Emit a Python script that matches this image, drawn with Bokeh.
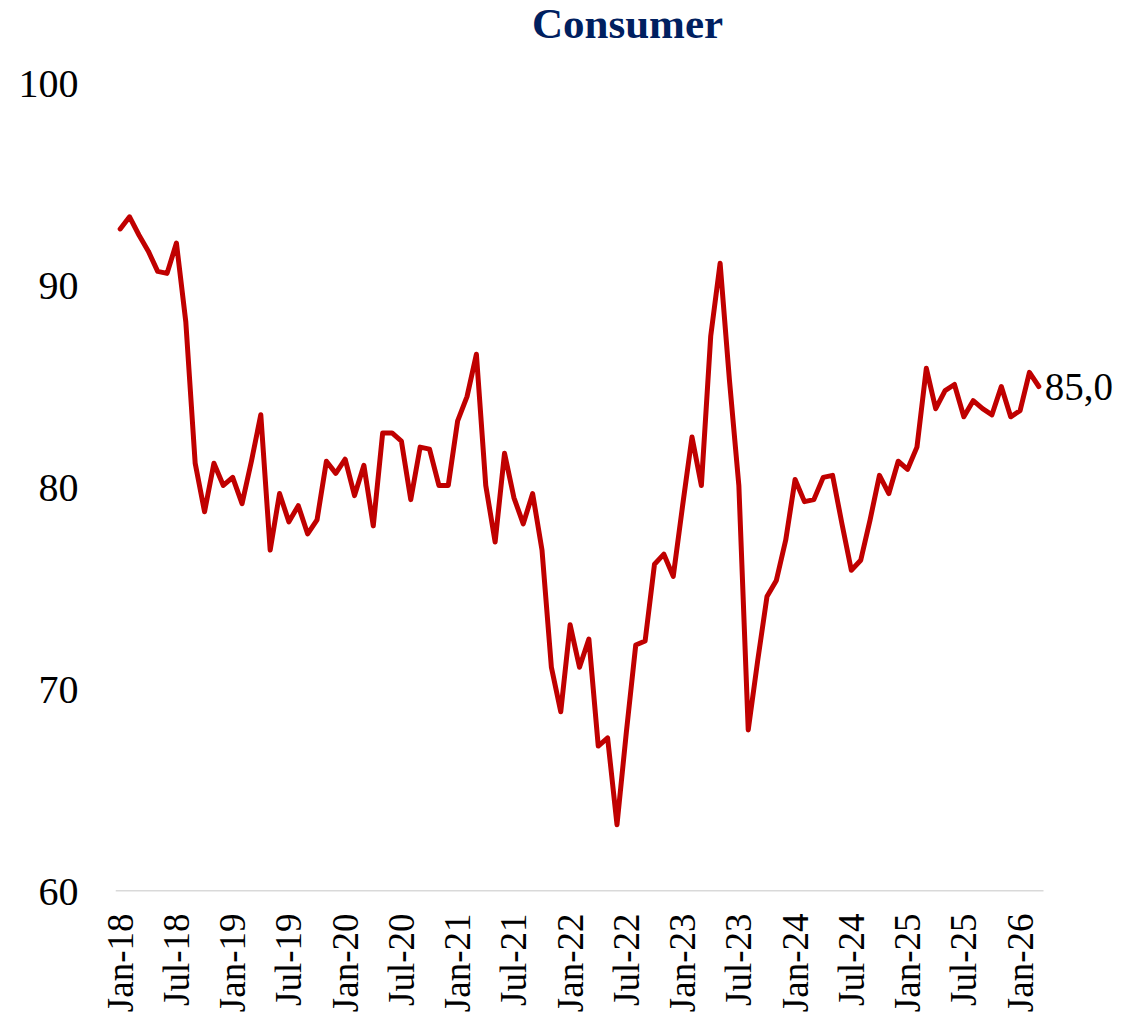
import math
from bokeh.plotting import figure
from bokeh.models import FixedTicker, Label, Range1d
from bokeh.embed import file_html
from bokeh.resources import INLINE

# Monthly consumer index, Jan-2018 .. Mar-2026
values_2018 = [92.8, 93.4, 92.5, 91.7, 90.7, 90.6, 92.1, 88.2, 81.2, 78.8, 81.2, 80.1]
values_2019 = [80.5, 79.2, 81.3, 83.6, 76.9, 79.7, 78.3, 79.1, 77.7, 78.4, 81.3, 80.7]
values_2020 = [81.4, 79.6, 81.1, 78.1, 82.7, 82.7, 82.3, 79.4, 82.0, 81.9, 80.1, 80.1]
values_2021 = [83.3, 84.5, 86.6, 80.1, 77.3, 81.7, 79.5, 78.2, 79.7, 76.9, 71.1, 68.9]
values_2022 = [73.2, 71.1, 72.5, 67.2, 67.6, 63.3, 67.9, 72.2, 72.4, 76.2, 76.7, 75.6]
values_2023 = [79.1, 82.5, 80.1, 87.5, 91.1, 85.3, 80.1, 68.0, 71.4, 74.6, 75.4, 77.4]
values_2024 = [80.4, 79.3, 79.4, 80.5, 80.6, 78.2, 75.9, 76.4, 78.4, 80.6, 79.7, 81.3]
values_2025 = [80.9, 82.0, 85.9, 83.9, 84.8, 85.1, 83.5, 84.3, 83.9, 83.6, 85.0, 83.5]
values_2026 = [83.8, 85.7, 85.0]

values = (values_2018 + values_2019 + values_2020 + values_2021 + values_2022
          + values_2023 + values_2024 + values_2025 + values_2026)

tick_labels = ["Jan-18", "Jul-18", "Jan-19", "Jul-19", "Jan-20", "Jul-20",
               "Jan-21", "Jul-21", "Jan-22", "Jul-22", "Jan-23", "Jul-23",
               "Jan-24", "Jul-24", "Jan-25", "Jul-25", "Jan-26"]
tick_months = [6 * i for i in range(len(tick_labels))]  # month index of each label

y_ticks = [60, 70, 80, 90, 100]
y_min, y_max = 60, 100
title_text = "Consumer"

FONT = "Liberation Serif"

xs = list(range(len(values)))
n = len(values)

# ---- layout geometry (pixels) ----
W, H = 1137, 1020
BL, BR, BB = 115, 6, 129
plot_top_px = 83          # where y_max sits, measured from top of figure
plot_bottom_px = H - BB   # where y_min sits
frame_w = W - BL - BR
px_per_month = 928.0 / n
px_per_unit = (plot_bottom_px - plot_top_px) / (y_max - y_min)
x_end = -0.5 + frame_w / px_per_month
y_top = y_max + plot_top_px / px_per_unit   # frame reaches the top edge

p = figure(width=W, height=H, output_backend="svg", toolbar_location=None,
           title=None,
           x_range=Range1d(-0.5, x_end), y_range=Range1d(y_min, y_top),
           min_border_left=BL, min_border_right=BR, min_border_top=0,
           min_border_bottom=BB)

# baseline (category axis line) only under the data span
p.segment(x0=[-0.5], y0=[y_min], x1=[n - 0.5], y1=[y_min], line_color="#D9D9D9",
          line_width=3)

p.line(xs, values, line_color="#C00000", line_width=5, line_join="round",
       line_cap="round")

# chart title (placed in the headroom above y_max)
title_center_px = 627
title_baseline_px = 23
p.add_layout(Label(x=(title_center_px - BL) / px_per_month - 0.5,
                   y=y_top - title_baseline_px / px_per_unit,
                   text=title_text, text_font=FONT, text_font_size="43px",
                   text_font_style="bold", text_color="#002060",
                   text_align="center", text_baseline="alphabetic"))

# end label
last_txt = f"{values[-1]:.1f}".replace(".", ",")
p.add_layout(Label(x=xs[-1], y=values[-1], text=last_txt, x_offset=6,
                   text_font=FONT, text_font_size="39px", text_color="black",
                   text_baseline="middle", text_align="left"))

# axes
p.xgrid.visible = False
p.ygrid.visible = False
p.outline_line_color = None
p.background_fill_color = "white"
p.border_fill_color = "white"

p.yaxis.ticker = FixedTicker(ticks=y_ticks)
p.yaxis.axis_line_color = None
p.yaxis.major_tick_line_color = None
p.yaxis.minor_tick_line_color = None
p.yaxis.major_tick_out = 0
p.yaxis.major_tick_in = 0
p.yaxis.major_label_text_font = FONT
p.yaxis.major_label_text_font_size = "40px"
p.yaxis.major_label_text_color = "black"
p.yaxis.major_label_standoff = 37

p.xaxis.ticker = FixedTicker(ticks=tick_months)
p.xaxis.major_label_overrides = {m: lab for m, lab in zip(tick_months, tick_labels)}
p.xaxis.axis_line_color = None
p.xaxis.major_tick_line_color = None
p.xaxis.minor_tick_line_color = None
p.xaxis.major_tick_out = 0
p.xaxis.major_tick_in = 0
p.xaxis.major_label_orientation = math.pi / 2
p.xaxis.major_label_text_font = FONT
p.xaxis.major_label_text_font_size = "37px"
p.xaxis.major_label_text_color = "black"
p.xaxis.major_label_standoff = 22

open("out.html", "w").write(file_html(p, INLINE))
